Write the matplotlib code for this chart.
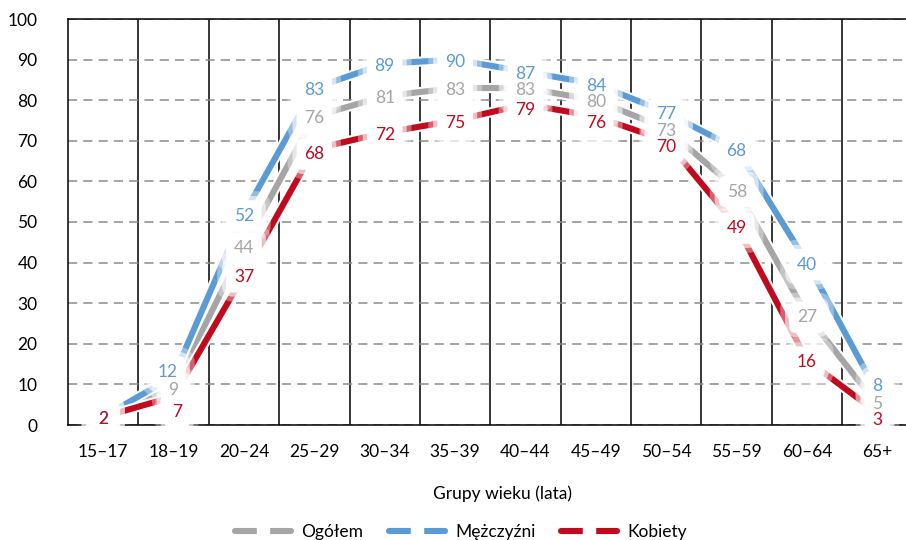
import matplotlib
matplotlib.use('Agg')
import matplotlib.pyplot as plt
import matplotlib.patheffects as pe
from matplotlib.lines import Line2D
from matplotlib.patches import FancyBboxPatch
from matplotlib.transforms import IdentityTransform

plt.rcParams['font.family'] = ['Lato', 'DejaVu Sans']

# data
groups = ['15–17', '18–19', '20–24', '25–29', '30–34', '35–39',
          '40–44', '45–49', '50–54', '55–59', '60–64', '65+']
ogolem = [2, 9, 44, 76, 81, 83, 83, 80, 73, 58, 27, 5]
mezczyzni = [2, 12, 52, 83, 89, 90, 87, 84, 77, 68, 40, 8]
kobiety = [2, 7, 37, 68, 72, 75, 79, 76, 70, 49, 16, 3]

names = ['Ogółem', 'Mężczyźni', 'Kobiety']
colors = ['#A5A5A5', '#5B9BD5', '#C20A1E']
series = [ogolem, mezczyzni, kobiety]

# small manual nudges of crowded labels (series index, group index) -> (dx, dy)
nudge = {(2, 1): (0.05, -3.3), (1, 1): (-0.08, 1.6), (1, 11): (0, 2.0),
         (0, 11): (0, 0.7), (2, 11): (0, -1.3), (2, 8): (0, -1.0),
         (2, 3): (0, -0.8), (2, 6): (0, -0.8), (2, 7): (0, -1.0)}

W, H = 906, 540
fig = plt.figure(figsize=(W / 100, H / 100), dpi=100)
ax = fig.add_axes([68 / W, (H - 425) / H, (912.6 - 68) / W, (425 - 19) / H])

x = list(range(len(groups)))
lw = 4.4
fs = 12.5

# lines
for vals, c in zip(series, colors):
    ax.plot(x, vals, color=c, lw=lw, solid_capstyle='butt', zorder=3,
            path_effects=[pe.Stroke(linewidth=lw + 3, foreground='white'), pe.Normal()])

# data labels (text on top, white boxes beneath all of them)
labels = []
for k, (vals, c) in enumerate(zip(series, colors)):
    for i, v in enumerate(vals):
        dx, dy = nudge.get((k, i), (0, 0))
        t = ax.text(x[i] + dx, v + dy - 0.5, str(v), ha='center', va='center',
                    fontsize=fs, color=c, zorder=10 + k)
        labels.append(t)

ax.set_xlim(-0.5, len(groups) - 0.5)
ax.set_ylim(0, 100)
ax.set_yticks(range(0, 101, 10))
ax.set_xticks(x)
ax.set_xticklabels(groups)
ax.set_xticks([i + 0.5 for i in range(len(groups) - 1)], minor=True)
ax.tick_params(axis='both', which='both', length=0, labelsize=fs)
ax.tick_params(axis='x', pad=14)
ax.tick_params(axis='y', pad=22)

ax.grid(axis='y', which='major', color='#8C8C8C', lw=1.1, ls=(0, (6, 4)), zorder=1)
ax.grid(axis='x', which='minor', color='black', lw=1.1, zorder=1)
ax.grid(axis='x', which='major', visible=False)
for s in ax.spines.values():
    s.set_color('black')
    s.set_linewidth(1.1)
ax.set_axisbelow(True)

fig.text(502 / W, 1 - 494 / H, 'Grupy wieku (lata)', ha='center', va='center', fontsize=fs)

handles = [Line2D([0], [0], color=c, lw=lw, solid_capstyle='round', marker='s', ms=9,
                  mfc='white', mec='white') for c in colors]
fig.legend(handles, names, loc='center', bbox_to_anchor=(461 / W, 1 - 532 / H), ncol=3,
           frameon=False, fontsize=fs, handlelength=3.2, handletextpad=0.6,
           columnspacing=1.5, borderaxespad=0, borderpad=0)

# soft white boxes behind the labels, sized from the rendered text
fig.canvas.draw()
rend = fig.canvas.get_renderer()
for t in labels:
    bb = t.get_window_extent(rend)
    box = FancyBboxPatch((bb.x0, bb.y0), bb.width, bb.height,
                         boxstyle='round,pad=7,rounding_size=6', fc='white', ec='white',
                         lw=1, transform=IdentityTransform(), zorder=6, clip_on=False)
    box.set_path_effects([pe.Stroke(linewidth=14, foreground='white', alpha=0.35),
                          pe.Stroke(linewidth=7, foreground='white', alpha=0.6),
                          pe.Normal()])
    ax.add_patch(box)

fig.savefig('out.png', dpi=100)
